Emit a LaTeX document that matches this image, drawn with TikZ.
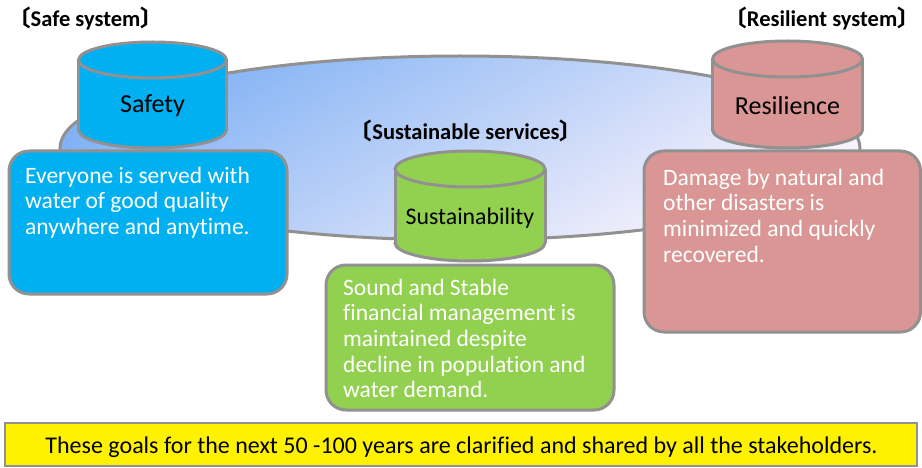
\documentclass[tikz,border=0pt]{standalone}
\usepackage{fontspec}
\setmainfont{Carlito}[Ligatures=NoCommon]
\newfontfamily\cjkfont{Noto Sans CJK JP}
\newcommand\lbr{{\cjkfont\bfseries 〔}}
\newcommand\rbr{{\cjkfont\bfseries 〕}}
\definecolor{edge}{RGB}{145,145,145}
\definecolor{safeblue}{RGB}{0,176,240}
\definecolor{sustgreen}{RGB}{146,208,80}
\definecolor{resilpink}{RGB}{217,150,148}
\definecolor{skyblue}{RGB}{130,178,244}
\definecolor{haze}{RGB}{252,244,252}
\tikzset{
  outline/.style={draw=edge, line width=3},
  goalbox/.style={outline, rounded corners=20, inner sep=0},
  goaltext/.style={text=white, align=left, anchor=north west, inner sep=0,
    font=\fontsize{23.5}{25.7}\selectfont},
  drumtext/.style={anchor=base, inner sep=0},
  heading/.style={inner sep=0, font=\fontsize{22.5}{24}\selectfont\bfseries},
}
% a drum: #1 centre x, #2 top-face y, #3 bottom-face y, #4 half width, #5 fill
\newcommand\drum[5]{%
  \fill[#5, outline] (#1,#3) ellipse [x radius=#4, y radius=18];
  \fill[#5] (#1-#4,#2) rectangle (#1+#4,#3);
  \draw[outline] (#1-#4,#2) -- (#1-#4,#3) (#1+#4,#2) -- (#1+#4,#3);
  \fill[#5, outline] (#1,#2) ellipse [x radius=#4, y radius=18];
}
\begin{document}
\begin{tikzpicture}[x=1pt, y=-1pt]
\useasboundingbox (0,0) rectangle (922,468);
\clip (0,0) rectangle (922,468);

% shared backdrop
\draw[outline, top color=skyblue, bottom color=haze, shading angle=30]
  (460,148) ellipse [x radius=400, y radius=92];

% safe system
\node[heading, anchor=base west] (safehead) at (8,27) {\lbr Safe system\rbr};
\drum{152.5}{60}{130}{74}{safeblue}
\node[drumtext, font=\fontsize{26}{28}\selectfont] (safety) at (152.5,113) {Safety};
\path[goalbox, fill=safeblue] (9,151) rectangle (287,294);
\node[goaltext] (safetext) at (25,166.5)
  {Everyone is served with\\water of good quality\\anywhere and anytime.};

% resilient system
\node[heading, anchor=base east] (resilhead) at (920,27) {\lbr Resilient system\rbr};
\drum{787.5}{59}{130}{75}{resilpink}
\node[drumtext, font=\fontsize{26}{28}\selectfont] (resilience) at (787.5,115) {Resilience};
\path[goalbox, fill=resilpink] (644,151) rectangle (920.5,332);
\node[goaltext] (resiltext) at (663,168.5)
  {Damage by natural and\\other disasters is\\minimized and quickly\\recovered.};

% sustainable services
\node[heading, anchor=base] (susthead) at (466,140) {\lbr Sustainable services\rbr};
\drum{470}{169}{243}{75}{sustgreen}
\node[drumtext, font=\fontsize{23.8}{26}\selectfont] (sustainability) at (470,225) {Sustainability};
\path[goalbox, fill=sustgreen] (326,265) rectangle (614,410);
\node[goaltext] (susttext) at (343,278.5)
  {Sound and Stable\\financial management is\\maintained despite\\decline in population and\\water demand.};

% shared goal
\node[draw=edge, line width=2.5, fill=yellow, minimum width=912, minimum height=43,
  inner sep=0] (goal) at (461,444.5) {};
\node[inner sep=0, anchor=base, font=\fontsize{24}{26}\selectfont] (goaltext) at (461.5,453)
  {These goals for the next 50 -100 years are clarified and shared by all the stakeholders.};
\end{tikzpicture}
\end{document}
